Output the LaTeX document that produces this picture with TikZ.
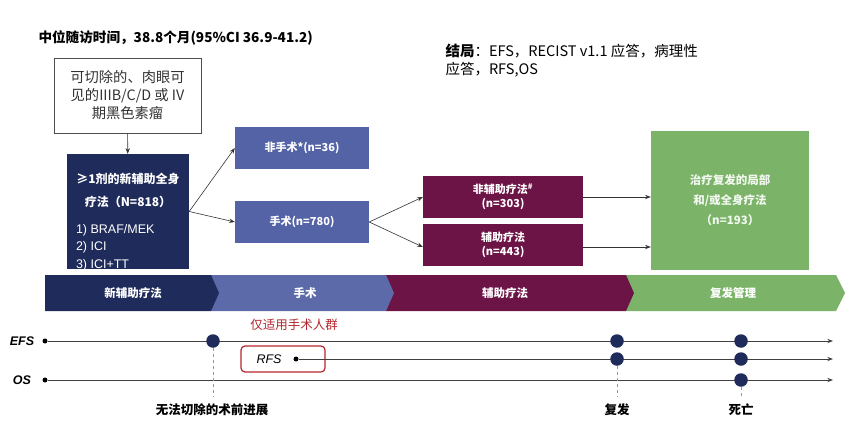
\documentclass[tikz,border=0pt]{standalone}
\usepackage{fontspec}
\setmainfont{Noto Sans CJK SC}
\newfontfamily\latinfont{Liberation Sans}
\usetikzlibrary{arrows.meta,positioning}
\definecolor{navy}{HTML}{1E2B5B}
\definecolor{steel}{HTML}{5462A6}
\definecolor{wine}{HTML}{6D1446}
\definecolor{leaf}{HTML}{7BB468}
\definecolor{alert}{HTML}{B3262D}

\begin{document}
\begin{tikzpicture}[x=1pt, y=-1pt,
  box/.style={fill=#1, text=white, align=center, inner sep=0pt, font=\bfseries\fontsize{11}{14}\selectfont},
  arr/.style={-{Stealth[length=2mm]}, draw=black!80, line width=0.6pt},
  phase/.style={text=white, font=\bfseries\fontsize{11.5}{13}\selectfont},
  track/.style={-{Stealth[length=2mm]}, draw=black!75, line width=1pt},
  tlabel/.style={font=\latinfont\bfseries\itshape\fontsize{12.5}{14}\selectfont},
  dot/.style={circle, fill=black, inner sep=0pt, minimum size=5pt},
  bigdot/.style={circle, fill=navy, inner sep=0pt, minimum size=13.5pt},
  guide/.style={dashed, draw=black!40, line width=0.5pt},
  event/.style={font=\bfseries\fontsize{12.5}{14}\selectfont}
]
\useasboundingbox (0,0) rectangle (865,423);

% header texts
\node[anchor=west, font=\bfseries\fontsize{13.6}{16}\selectfont] (title) at (35,38) {中位随访时间，38.8个月(95\%CI 36.9-41.2)};
\node[anchor=west, align=left, font=\fontsize{14.5}{18}\selectfont] (outcome) at (442,61) {\textbf{结局}：EFS，RECIST v1.1 应答，病理性\\应答，RFS,OS};

% flow boxes
\node[draw=black!70, line width=0.8pt, minimum width=147pt, minimum height=75pt, align=center, text=black!80, font=\fontsize{14.3}{18}\selectfont] (stage) at (127.5,95.5) {可切除的、肉眼可\\见的IIIB/C/D 或 IV\\期黑色素瘤};
\node[box=navy, minimum width=122pt, minimum height=115pt] (neo) at (128,211.5) {};
\node[anchor=north, text=white] (neotext) at (128,170) {\parbox{112pt}{\fontsize{12}{23}\selectfont\centering\bfseries ≥1剂的新辅助全身\\疗法（N=818）\par\vspace{9pt}\latinfont\fontsize{12.5}{17.5}\selectfont\raggedright\mdseries\leftskip=4pt 1) BRAF/MEK\\2) ICI\\3) ICI+TT\par}};
\node[box=steel, minimum width=134pt, minimum height=42pt] (nosurg) at (302,148) {非手术*(n=36)};
\node[box=steel, minimum width=134pt, minimum height=42pt] (surg) at (302,222) {手术(n=780)};
\node[box=wine, minimum width=160pt, minimum height=42pt] (noadj) at (503,197) {非辅助疗法\textsuperscript{\#}\\(n=303)};
\node[box=wine, minimum width=160pt, minimum height=42pt] (adj) at (503,245) {辅助疗法\\(n=443)};
\node[box=leaf, minimum width=158pt, minimum height=139pt, text=white!90!leaf, font=\bfseries\fontsize{11.5}{20}\selectfont] (relapse) at (730,200) {治疗复发的局部\\和/或全身疗法\\（n=193）};

\draw[arr] (stage) -- (neo);
\draw[arr] (neo.east) -- (nosurg.west);
\draw[arr] (neo.east) -- (surg.west);
\draw[arr] (surg.east) -- (noadj.west);
\draw[arr] (surg.east) -- ([yshift=-2pt]adj.west);
\draw[arr] (noadj.east) -- (noadj.east -| relapse.west);
\draw[arr] ([yshift=-2pt]adj.east) -- ([yshift=-2pt]adj.east -| relapse.west);

% phase banner, drawn right to left so each tip overlaps the next
\fill[leaf] (626,275) -- (836,275) -- (845,293) -- (836,311) -- (626,311) -- cycle;
\fill[wine] (386,275) -- (626,275) -- (634,293) -- (626,311) -- (386,311) -- cycle;
\fill[steel!95!white] (211,275) -- (386,275) -- (394,293) -- (386,311) -- (211,311) -- cycle;
\fill[navy] (45,275) -- (211,275) -- (219,293) -- (211,311) -- (45,311) -- cycle;
\node[phase] (p1) at (133,293) {新辅助疗法};
\node[phase] (p2) at (305,293) {手术};
\node[phase] (p3) at (505,293) {辅助疗法};
\node[phase] (p4) at (733,293) {复发管理};

% endpoints
\node[tlabel] (efs) at (22,341) {EFS};
\node[tlabel] (os) at (22,380) {OS};
\node[dot] (efs0) at (45,341) {};
\node[dot] (os0) at (45,380) {};
\node[draw=alert, line width=1.2pt, rounded corners=4pt, minimum width=84pt, minimum height=26pt] (rfsbox) at (283,359) {};
\node[tlabel, font=\latinfont\itshape\fontsize{12.5}{14}\selectfont] (rfs) at (269,359) {RFS};
\node[dot] (rfs0) at (296,359) {};
\node[text=alert, font=\fontsize{12.5}{14}\selectfont] (only) at (294,325) {仅适用手术人群};
\coordinate (efs1) at (833,341);
\coordinate (rfs1) at (833,359);
\coordinate (os1) at (833,380);
\draw[track] (efs0) -- (efs1);
\draw[track] (rfs0) -- (rfs1);
\draw[track] (os0) -- (os1);

\node[bigdot] (prog) at (213,341) {};
\node[bigdot] (rec1) at (617,341) {};
\node[bigdot] (rec2) at (617,359) {};
\node[bigdot] (die1) at (741,341) {};
\node[bigdot] (die2) at (741,359) {};
\node[bigdot] (die3) at (741,380) {};

\node[event] (progtext) at (212,410) {无法切除的术前进展};
\node[event] (rectext) at (617,410) {复发};
\node[event] (dietext) at (741,410) {死亡};
\draw[guide] (prog) -- (prog |- 0,396);
\draw[guide] (rec2) -- (rec2 |- 0,396);
\draw[guide] (die3) -- (die3 |- 0,396);
\end{tikzpicture}
\end{document}
